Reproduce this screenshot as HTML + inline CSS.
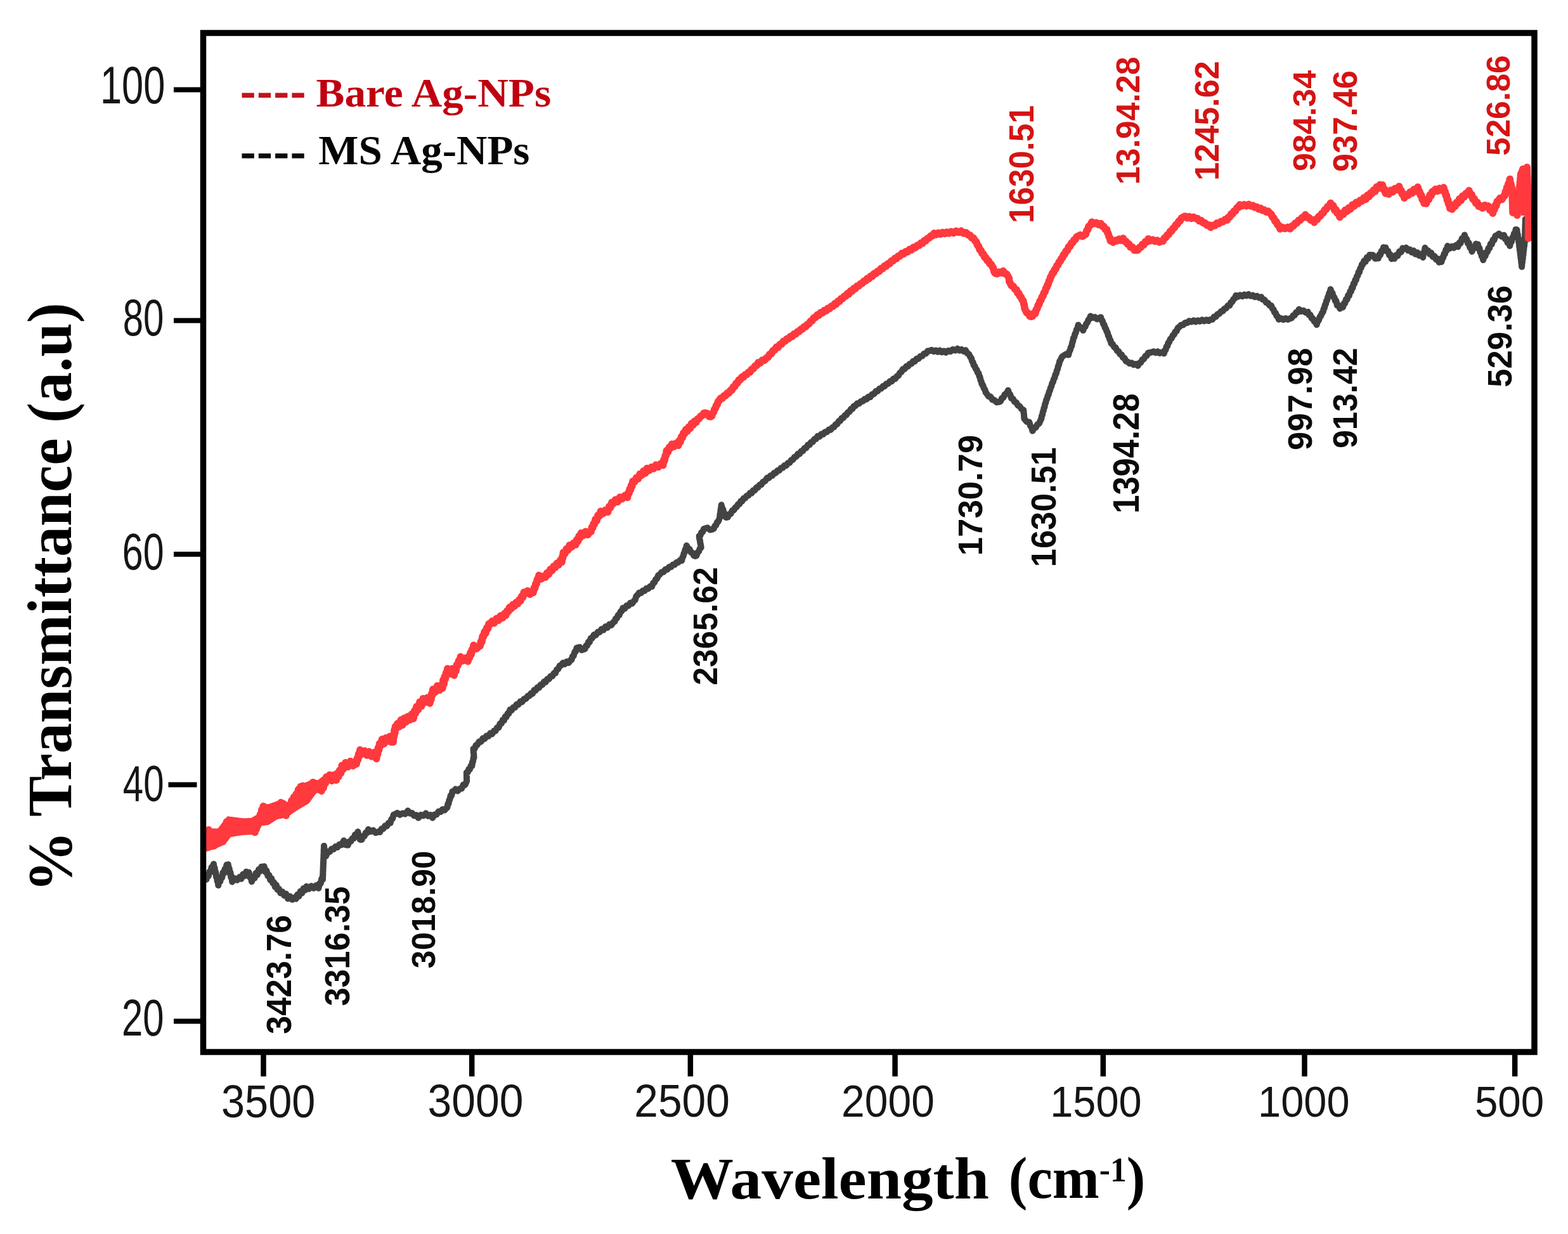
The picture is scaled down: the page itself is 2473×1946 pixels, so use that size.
<!DOCTYPE html>
<html lang="en"><head><meta charset="utf-8"><title>FTIR spectra of Bare and MS Ag-NPs</title>
<style>html,body{margin:0;padding:0;background:#fff;width:2473px;height:1946px;overflow:hidden}svg{display:block}</style>
</head><body>
<svg width='2473' height='1946' viewBox='0 0 2473 1946'>
<rect x='0' y='0' width='2473' height='1946' fill='#fff'/>
<defs><clipPath id='pc'><rect x='320.5' y='52.0' width='2099.5' height='1607.0'/></clipPath></defs>
<g clip-path='url(#pc)' fill='none' stroke-linejoin='round' stroke-linecap='round'>
<polyline points='319,1390.9713 323.8,1385.5153 325.45,1387.1244 327.1,1379.5847 328.75,1381.6197 330.4,1374.4615 332.05,1374.9428 333.7,1367.5694 335.35,1369.4251 337,1362.5337 337.8111,1370.7497 338.6222,1368.7263 339.4333,1377.0459 340.2444,1375.2291 341.0556,1383.2905 341.8667,1382.18 342.6778,1389.796 343.4889,1387.7226 344.3,1396.1563 345.76,1388.0693 347.22,1390.1964 348.68,1382.8236 350.14,1384.1536 351.6,1375.952 353.06,1377.3767 354.52,1370.5481 355.98,1371.9785 357.44,1363.7918 358.9,1365.6204 359.8125,1363.2761 360.725,1371.8391 361.6375,1369.444 362.55,1377.6332 363.4625,1375.8313 364.375,1383.9252 365.2875,1381.8745 366.2,1390.7365 370.1333,1385.1518 374.0667,1387.8002 378,1383.0571 380.62,1385.8934 383.24,1378.6412 385.86,1381.316 388.48,1374.7036 391.1,1377.0348 392.575,1375.8291 394.05,1383.4237 395.525,1382.1601 397,1390.3387 399.2,1382.2793 401.4,1384.9707 403.6,1376.7459 405.8,1379.7061 408,1371.1622 410.2,1373.9562 412.4,1366.7798 414.6,1368.7119 416.55,1366.1311 418.5,1375.138 420.45,1373.0317 422.4,1381.247 424.35,1379.8816 426.3,1387.7727 428.1857,1385.29 430.0714,1392.4633 431.9571,1391.4072 433.8429,1398.66 435.7286,1395.5852 437.6143,1403.0552 439.5,1401.2692 442.42,1408.2641 445.34,1406.2665 448.26,1412.2268 451.18,1409.5521 454.1,1417.1282 457.5,1413.557 460.9,1418.713 464.3,1415.4893 466.6875,1417.6199 469.075,1410.7032 471.4625,1413.4392 473.85,1405.4261 476.2375,1408.5323 478.625,1401.002 481.0125,1403.8681 483.4,1397.8461 487.2,1401.7797 491,1397.3476 494.8,1400.6765 498.6,1396.2793 502.4,1400.6741 504.05,1393.0391 505.7,1393.3073 507.35,1385.4785 509,1387.0737 509.1333,1378.7891 509.2667,1381.3272 509.4,1373.04 509.5333,1374.2049 509.6667,1366.3146 509.8,1367.9192 509.9333,1359.6792 510.0667,1361.2717 510.2,1353.1128 510.3333,1355.2532 510.4667,1346.7322 510.6,1348.0321 510.7333,1339.9109 510.8667,1341.2375 511,1333.9435 512,1342.97 513,1341.6465 514,1350.3904 517,1343.3345 520,1343.3263 523.0333,1338.7069 526.0667,1339.3396 529.1,1335.0112 532.1333,1336.1687 535.1667,1331.7947 538.2,1332.4981 542.3,1325.5323 544.4,1331.8902 546.5,1332.5244 548.7375,1332.7626 550.975,1327.0122 553.2125,1327.008 555.45,1322.3609 557.6875,1322.3376 559.925,1316.4297 562.1625,1316.7934 564.4,1311.6404 565.45,1317.5951 566.5,1318.0008 567.55,1323.6598 568.6,1324.2567 570.6667,1324.0223 572.7333,1318.4942 574.8,1318.4333 576.8667,1313.1378 578.9333,1313.2822 581,1307.8882 584.8,1311.3761 588.6,1309.3645 592.4,1313.2161 596.2,1311.8297 598.9714,1312.2839 601.7429,1307.1024 604.5143,1307.0704 607.2857,1302.2289 610.0571,1302.7697 612.8286,1297.7847 615.6,1297.7508 617.325,1291.7897 619.05,1291.2652 620.775,1284.8049 622.5,1284.383 626.6333,1282.0062 630.7667,1284.8294 634.9,1282.4833 639.05,1283.6568 643.2,1278.5446 646.52,1282.7323 649.84,1282.1321 653.16,1286.299 656.48,1285.3954 659.8,1289.8435 663.7667,1285.0642 667.7333,1286.4054 671.7,1282.5843 675.2,1286.8772 678.7,1285.1567 682.2,1289.7431 685.35,1284.4553 688.5,1284.445 691.65,1279.7485 694.8,1280.233 697.9667,1276.3237 701.1333,1277.7372 704.3,1274.0723 705.35,1273.5633 706.4,1267.745 707.45,1267.6357 708.5,1261.617 709.55,1260.5604 710.6,1254.646 712.0333,1254.9694 713.4667,1248.3439 714.9,1248.3418 718.4,1244.5404 721.9,1247.3412 725.4,1243.7301 728.075,1243.5939 730.75,1237.4323 733.425,1237.727 736.1,1231.8896 736.05,1231.0991 736,1225.1837 735.95,1224.1992 735.9,1218.5549 737.6,1218.3268 739.3,1212.8975 741,1213.0263 742.7,1207.6135 744.4,1207.6219 745.175,1201.1731 745.95,1201.2883 746.725,1194.6588 747.5,1194.9187 747.1667,1188.2427 746.8333,1187.2006 746.5,1181.1063 748.6,1180.6625 750.7,1175.1338 752.8,1174.7269 755.7,1169.4098 758.6,1169.7751 761.5,1164.3244 764.4,1165.1859 767.34,1160.5335 770.28,1161.0945 773.22,1156.3121 776.16,1157.4765 779.1,1152.5763 781.5667,1152.675 784.0333,1147.4502 786.5,1147.2231 788.6,1141.2484 790.7,1141.1288 792.8,1135.4687 794.9,1135.9366 796.8,1129.9371 798.7,1130.617 800.6,1125.3439 802.5,1125.2192 804.4,1119.4113 807.02,1119.8904 809.64,1115.4102 812.26,1115.5876 814.88,1110.7229 817.5,1111.2326 820.5,1106.267 823.5,1106.999 826.5,1102.1285 829.5,1101.8944 832.5,1097.5072 835,1097.5076 837.5,1093.1879 840,1093.8295 842.5,1088.1846 845,1088.7431 847.5,1084.1033 850.12,1084.5059 852.74,1079.7752 855.36,1080.0545 857.98,1075.026 860.6,1075.7652 863.22,1070.7577 865.84,1070.9248 868.46,1066.2637 871.08,1066.3502 873.7,1061.56 875.94,1061.57 878.18,1055.702 880.42,1055.0547 882.66,1049.8654 884.9,1049.2924 887.9,1045.4004 890.9,1047.3839 893.9,1043.342 896.9,1045.1589 899.9,1040.9054 901.5143,1040.5253 903.1286,1034.6798 904.7429,1034.149 906.3571,1027.9835 907.9714,1027.6592 909.5857,1021.562 911.2,1021.2633 914.3333,1020.5781 917.4667,1025.0574 920.6,1023.9469 922.4714,1023.6051 924.3429,1018.2801 926.2143,1018.0064 928.0857,1012.026 929.9571,1012.5343 931.8286,1006.5497 933.7,1006.6173 936.7,1001.0294 939.7,1001.6224 942.7,996.814 945.7,997.0297 948.7,992.0513 951.8167,993.3431 954.9333,988.2246 958.05,989.6819 961.1667,984.6359 964.2833,985.8677 967.4,980.9533 969.275,980.661 971.15,975.3089 973.025,974.9565 974.9,970.0438 976.775,969.9547 978.65,964.4991 980.525,963.7769 982.4,958.8296 985.3333,959.7365 988.2667,955.0316 991.2,955.309 994.1333,950.7617 997.0667,951.6549 1000,947.4913 1001.7333,946.0757 1003.4667,940.0292 1005.2,938.7722 1008.0625,934.7337 1010.925,935.2573 1013.7875,931.6263 1016.65,931.8139 1019.5125,927.9234 1022.375,928.3584 1025.2375,924.7351 1028.1,924.9531 1030.1167,919.4883 1032.1333,918.4508 1034.15,913.7453 1036.1667,912.6449 1038.1833,907.3506 1040.2,906.3566 1043.26,902.5598 1046.32,902.1212 1049.38,898.0647 1052.44,898.1758 1055.5,893.9547 1058.3286,894.0871 1061.1571,890.4673 1063.9857,890.5913 1066.8143,886.9689 1069.6429,886.9494 1072.4714,883.4352 1075.3,883.9842 1076.3857,878.7006 1077.4714,877.7665 1078.5571,872.7625 1079.6429,871.6477 1080.7286,866.3284 1081.8143,865.5521 1082.9,860.3825 1085.1833,865.1813 1087.4667,865.8755 1089.75,870.99 1092.0333,871.731 1094.3167,876.0877 1096.6,876.9473 1098.42,876.3112 1100.24,871.0024 1102.06,869.9542 1103.88,864.8044 1105.7,863.7239 1105.1,858.6886 1104.5,857.0515 1103.9,851.8224 1103.3,850.4392 1102.7,845.3491 1104.52,844.5793 1106.34,839.4472 1108.16,838.8681 1109.98,834.1124 1111.8,833.4567 1115.8667,832.2856 1119.9333,835.557 1124,834.6287 1125.7667,833.559 1127.5333,829.2048 1129.3,828.1455 1131.0667,823.4278 1132.8333,822.3991 1134.6,817.8741 1135.1167,816.1367 1135.6333,810.4988 1136.15,808.899 1136.6667,803.2385 1137.1833,801.9622 1137.7,796.3346 1138.9667,801.6888 1140.2333,802.7968 1141.5,808.4956 1142.7667,809.5591 1144.0333,814.8966 1145.3,816.0634 1147.74,815.6761 1150.18,810.7708 1152.62,810.1241 1155.06,804.9632 1157.5,804.4884 1159.6714,800.265 1161.8429,799.5809 1164.0143,795.208 1166.1857,795.0672 1168.3571,790.2956 1170.5286,790.4002 1172.7,785.9434 1175.2333,785.5926 1177.7667,781.867 1180.3,781.5245 1182.8333,777.5394 1185.3667,777.8506 1187.9,773.3586 1190.45,773.1808 1193,768.8123 1195.55,768.6483 1198.1,764.504 1200.65,764.3248 1203.2,760.1347 1206.6,758.6192 1210,753.5972 1212.725,753.7107 1215.45,749.9264 1218.175,749.9295 1220.9,745.7898 1223.625,745.644 1226.35,742.0391 1229.075,741.9452 1231.8,738.0007 1234.525,737.8629 1237.25,733.9927 1239.975,734.3489 1242.7,730.1563 1245.3111,729.789 1247.9222,725.6264 1250.5333,724.9424 1253.1444,720.6179 1255.7556,720.1586 1258.3667,715.7993 1260.9778,715.9355 1263.5889,711.5728 1266.2,711.2657 1268.8,706.7327 1271.4,706.5002 1274,701.842 1276.6,701.5546 1279.2,697.2229 1281.8,697.0976 1284.4,692.4801 1287,692.2037 1289.6,687.8438 1292.525,688.5274 1295.45,684.3914 1298.375,684.7787 1301.3,681.2187 1304.225,681.2539 1307.15,677.579 1310.075,677.8851 1313,673.8881 1315.44,673.6263 1317.88,669.3385 1320.32,668.8327 1322.76,664.2359 1325.2,663.7198 1327.64,659.2444 1330.08,659.1584 1332.52,654.853 1334.96,654.4801 1337.4,650.0023 1339.72,649.3689 1342.04,644.9835 1344.36,644.8445 1346.68,640.4004 1349,640.1938 1351.9375,636.3672 1354.875,636.4978 1357.8125,633.0318 1360.75,632.8551 1363.6875,629.2162 1366.625,629.7564 1369.5625,625.8173 1372.5,626.2477 1375.425,621.8249 1378.35,621.2705 1381.275,617.1107 1384.2,616.9254 1386.9636,613.0422 1389.7273,612.8739 1392.4909,609.0858 1395.2545,609.1921 1398.0182,605.1869 1400.7818,605.1006 1403.5455,601.3218 1406.3091,601.3863 1409.0727,597.2699 1411.8364,597.4396 1414.6,593.3896 1416.95,592.4556 1419.3,587.8768 1421.65,586.5983 1424,582.1191 1426.6714,582.0707 1429.3429,577.7595 1432.0143,577.7231 1434.6857,574.0743 1437.3571,573.8587 1440.0286,569.7502 1442.7,570.0922 1445.6375,565.697 1448.575,565.8613 1451.5125,561.9493 1454.45,561.6481 1457.3875,557.8217 1460.325,557.6236 1463.2625,553.5025 1466.2,553.3332 1469.4125,551.9262 1472.625,554.2473 1475.8375,552.6299 1479.05,554.8348 1482.2625,552.7011 1485.475,555.4954 1488.6875,553.5734 1491.9,555.8383 1495.52,552.9439 1499.14,554.2857 1502.76,551.1135 1506.38,552.7167 1510,549.9098 1513.225,552.6681 1516.45,551.1018 1519.675,553.8168 1522.9,552.2598 1525.4667,557.1164 1528.0333,558.2343 1530.6,563.5022 1531.9,564.6223 1533.2,569.8713 1534.5,571.0906 1535.8,576.1282 1537.34,577.1152 1538.88,581.7167 1540.42,582.8122 1541.96,587.7529 1543.5,588.5251 1544.52,593.6261 1545.54,594.384 1546.56,599.9768 1547.58,601.0257 1548.6,606.0785 1550.16,607.1804 1551.72,612.3646 1553.28,614.0545 1554.84,619.1915 1556.4,620.9395 1559.3,625.3052 1562.2,625.5911 1565.1,630.329 1568,630.7758 1571.85,634.4214 1575.7,633.8064 1577.95,632.9171 1580.2,627.7333 1582.45,627.1573 1584.7,621.8662 1587.3,620.8977 1589.9,615.584 1591.6,621.1202 1593.3,622.1066 1595,628.019 1597.575,628.7293 1600.15,633.7578 1602.725,634.5013 1605.3,639.1788 1608.3,640.66 1611.3,645.1606 1614.3,646.5678 1614.625,651.7591 1614.95,653.4942 1615.275,659.1741 1615.6,660.5706 1619.45,665.1619 1623.3,665.7052 1625.0333,671.5599 1626.7667,673.5467 1628.5,679.5579 1631.0667,674.8501 1633.6333,674.0206 1636.2,669.3588 1638.8,667.886 1641.4,661.9703 1642.2556,660.6876 1643.1111,655.5865 1643.9667,654.5306 1644.8222,649.4763 1645.6778,647.8944 1646.5333,643.1961 1647.3889,642.062 1648.2444,636.9455 1649.1,635.5841 1650.225,630.5457 1651.35,628.9874 1652.475,624.1101 1653.6,622.6512 1654.725,617.6616 1655.85,615.9811 1656.975,611.2456 1658.1,609.6134 1659.3833,604.3649 1660.6667,602.6833 1661.95,597.7719 1663.2333,596.0438 1664.5167,590.6798 1665.8,589.3265 1666.8833,584.0218 1667.9667,582.2843 1669.05,576.953 1670.1333,575.1973 1671.2167,569.7535 1672.3,568.4431 1674.85,562.9799 1677.4,560.8926 1681.3,558.4386 1685.2,559.6791 1686.475,554.1324 1687.75,552.2875 1689.025,547.2046 1690.3,545.5407 1691.1667,540.0907 1692.0333,538.7092 1692.9,533.1127 1694.1833,531.9274 1695.4667,526.3425 1696.75,524.6612 1698.0333,519.4962 1699.3167,518.1249 1700.6,512.417 1703.1667,516.55 1705.7333,516.9968 1708.3,521.0142 1709.9571,515.6751 1711.6143,515.0758 1713.2714,510.3543 1714.9286,508.8613 1716.5857,504.4178 1718.2429,503.0575 1719.9,498.5636 1723.2667,500.9132 1726.6333,499.9356 1730,503.1417 1736.1,500.1676 1737.4429,505.2847 1738.7857,506.006 1740.1286,511.1851 1741.4714,511.7483 1742.8143,517.265 1744.1571,518.265 1745.5,522.8933 1746.6667,524.0633 1747.8333,529.5354 1749,530.6336 1750.1667,535.42 1751.3333,536.4545 1752.5,541.5821 1754.84,542.6569 1757.18,547.3105 1759.52,548.0872 1761.86,553.2582 1764.2,553.9828 1766.5333,558.6811 1768.8667,559.1223 1771.2,564.2039 1773.5333,564.6946 1775.8667,569.7219 1778.2,570.2727 1781.48,573.0976 1784.76,572.2308 1788.04,575.191 1791.32,573.9638 1794.6,576.7726 1796.9429,572.4143 1799.2857,571.6937 1801.6286,566.8164 1803.9714,566.345 1806.3143,561.6016 1808.6571,560.8714 1811,556.395 1815.9,555.7308 1819.2167,554.2049 1822.5333,556.2548 1825.85,554.4413 1829.1667,557.0446 1832.4833,555.4949 1835.8,557.4537 1837.1333,552.4081 1838.4667,551.7241 1839.8,546.4211 1841.1333,545.8919 1842.4667,540.7051 1843.8,539.9397 1845.7875,534.5688 1847.775,533.6352 1849.7625,528.806 1851.75,527.5072 1853.7375,522.8139 1855.725,522.0491 1857.7125,517.0111 1859.7,515.8478 1862.88,512.4406 1866.06,512.4023 1869.24,508.9653 1872.42,509.3358 1875.6,506.1564 1878.99,507.5043 1882.38,505.4079 1885.77,507.3576 1889.16,505.3782 1892.55,506.7495 1895.94,504.4192 1899.33,506.3437 1902.72,504.256 1906.11,506.0605 1909.5,503.728 1912.2091,503.7958 1914.9182,499.3782 1917.6273,499.4099 1920.3364,495.384 1923.0455,494.8553 1925.7545,491.1023 1928.4636,490.8888 1931.1727,486.7374 1933.8818,486.0745 1936.5909,481.8924 1939.3,481.8316 1941.3,476.9824 1943.3,476.2052 1945.3,471.6728 1947.3,470.7253 1949.3,465.8998 1952.6167,467.8417 1955.9333,465.3429 1959.25,467.2604 1962.5667,464.5417 1965.8833,466.3508 1969.2,464.0322 1972.5,466.7423 1975.8,465.6534 1979.1,468.3037 1982.4,466.7039 1985.7,469.625 1989,468.2645 1991.6667,472.4471 1994.3333,472.7468 1997,477.1909 1999.6667,477.6065 2002.3333,481.6008 2005,482.0015 2006.7,486.5997 2008.4,487.6474 2010.1,492.6737 2011.8,493.4091 2013.5,498.3086 2015.2,498.9877 2016.9,503.7403 2020.48,501.9799 2024.06,504.1975 2027.64,501.9889 2031.22,503.867 2034.8,502.1358 2037.1333,501.4258 2039.4667,497.455 2041.8,497.2096 2044.1333,492.4934 2046.4667,492.5434 2048.8,487.7079 2052.275,491.0481 2055.75,489.6902 2059.225,492.9534 2062.7,491.94 2064.6857,496.7268 2066.6714,496.771 2068.6571,501.8419 2070.6429,502.1303 2072.6286,506.8532 2074.6143,507.2898 2076.6,512.0984 2078.2667,506.2466 2079.9333,505.0858 2081.6,499.6385 2083.2667,498.423 2084.9333,493.5289 2086.6,492.1376 2087.6818,487.031 2088.7636,485.8552 2089.8455,480.6656 2090.9273,479.4115 2092.0091,474.44 2093.0909,473.3855 2094.1727,468.4593 2095.2545,467.2622 2096.3364,462.1145 2097.4182,461.3337 2098.5,456.2169 2099.9875,461.113 2101.475,462.0687 2102.9625,468.4295 2104.45,468.7632 2105.9375,474.6492 2107.425,474.5599 2108.9125,481.6659 2110.4,480.8234 2113.4,486.6299 2116.4,483.8226 2118.0375,484.4039 2119.675,478.3803 2121.3125,478.1938 2122.95,471.9315 2124.5875,472.2557 2126.225,465.7033 2127.8625,465.9411 2129.5,459.2458 2130.8133,459.7323 2132.1267,453.5115 2133.44,454.2079 2134.7533,447.0509 2136.0667,447.5044 2137.38,441.4898 2138.6933,441.8886 2140.0067,435.6 2141.32,435.1002 2142.6333,428.9644 2143.9467,429.3805 2145.26,423.2059 2146.5733,422.7798 2147.8867,417.0481 2149.2,417.3723 2151.3833,411.2789 2153.5667,412.6795 2155.75,406.0623 2157.9333,407.7794 2160.1167,401.9052 2162.3,402.0932 2165.5667,402.2103 2168.8333,407.8047 2172.1,407.3551 2173.7429,407.3465 2175.3857,401.5209 2177.0286,401.76 2178.6714,396.1244 2180.3143,396.2833 2181.9571,390.0102 2183.6,390.824 2185.4714,390.5465 2187.3429,396.0821 2189.2143,396.0076 2191.0857,402.2884 2192.9571,401.393 2194.8286,408.1991 2196.7,406.8895 2199.2857,407.7692 2201.8714,402.3843 2204.4571,403.1036 2207.0429,396.5655 2209.6286,397.6852 2212.2143,391.353 2214.8,392.5563 2217.75,390.6232 2220.7,394.7971 2223.65,393.5031 2226.6,397.8867 2229.55,395.252 2232.5,400.7671 2235.45,398.2972 2238.4,403.1488 2241.35,400.4607 2244.3,405.9159 2245.3667,398.2934 2246.4333,397.9203 2247.5,390.7768 2249.96,396.0091 2252.42,395.3689 2254.88,400.777 2257.34,398.8278 2259.8,404.9016 2262.26,403.6659 2264.72,408.9684 2267.18,407.8797 2269.64,413.6749 2272.1,412.142 2273.4625,412.9847 2274.825,406.4862 2276.1875,406.3968 2277.55,400.1732 2278.9125,400.5428 2280.275,393.8974 2281.6375,395.0043 2283,387.868 2286.5,391.8163 2290,388.7597 2293.1333,390.9454 2296.2667,386.5791 2299.4,389.1927 2301.5,382.9729 2303.6,383.3323 2305.7,376.2675 2307.8,376.6514 2309.9,370.428 2311.5714,377.0633 2313.2429,376.9518 2314.9143,383.9539 2316.5857,382.8821 2318.2571,390.0757 2319.9286,390.0111 2321.6,396.7215 2323.65,390.5607 2325.7,390.8895 2327.75,384.6201 2329.8,385.523 2330.975,385.5968 2332.15,392.3004 2333.325,391.0806 2334.5,397.8242 2335.675,397.7764 2336.85,403.9391 2338.025,404.1848 2339.2,410.0577 2340.8714,403.2482 2342.5429,403.5456 2344.2143,397.6483 2345.8857,397.3223 2347.5571,391.4541 2349.2286,391.3024 2350.9,384.4544 2352.78,385.1599 2354.66,378.0052 2356.54,378.5796 2358.42,372.0647 2360.3,371.4894 2364.2,368.6051 2368.1,372.812 2372,370.8251 2373.86,376.808 2375.72,376.4648 2377.58,382.5107 2379.44,382.3233 2381.3,387.8436 2382.625,381.017 2383.95,381.3028 2385.275,374.6186 2386.6,374.8861 2387.925,368.0821 2389.25,368.9279 2390.575,361.9745 2391.9,361.9508 2392.4833,362.6526 2393.0667,369.1952 2393.65,369.1656 2394.2333,375.2644 2394.8167,375.1589 2395.4,382.5761 2395.7917,382.4667 2396.1833,389.1112 2396.575,388.4356 2396.9667,394.9886 2397.3583,395.309 2397.75,401.446 2398.1417,400.8874 2398.5333,407.788 2398.925,408.185 2399.3167,414.1038 2399.7083,414.6394 2400.1,420.7589 2400.4917,413.8592 2400.8833,414.0362 2401.275,408.1249 2401.6667,408.4399 2402.0583,400.8781 2402.45,402.0301 2402.8417,395.1715 2403.2333,394.9608 2403.625,388.0237 2404.0167,388.6402 2404.4083,381.8186 2404.8,382.0201 2404.91,375.7589 2405.02,375.0319 2405.13,368.0193 2405.24,368.4441 2405.35,361.1768 2405.46,361.1094 2405.57,354.1873 2405.68,354.0679 2405.79,347.1709 2405.9,345.4' stroke='#434343' stroke-width='10'/>
<polyline points='319,1337.8265 321,1328.6016 322.3333,1333.4694 323.6667,1322.4624 325,1326.8513 326.3333,1315.4033 327.6667,1319.3352 329,1308.7191 330.6,1319.5178 332.2,1315.7017 333.8,1326.3979 335.4,1323.3505 337,1334.0757 339.3333,1322.2619 341.6667,1327.9981 344,1318.4225 345.6667,1323.8001 347.3333,1311.0739 349,1318.12 350.6667,1306.8821 352.3333,1313.5523 354,1302.193 355.6667,1307.7053 357.3333,1296.036 359,1300.382 360.75,1296.9335 362.5,1307.2885 364.25,1301.7051 366,1313.4723 368.6667,1303.5355 371.3333,1310.6063 374,1300.0533 376.6667,1306.3807 379.3333,1296.8196 382,1301.1725 384,1297.1319 386,1308.0423 388,1301.9167 390.3333,1306.8025 392.6667,1295.5257 395,1301.1466 396.75,1296.2331 398.5,1307.9911 400.25,1301.245 402,1312.6291 403.2,1301.526 404.4,1307.2703 405.6,1294.7272 406.8,1301.7213 408,1290.126 409.2,1296.2873 410.4,1284.4919 411.6,1288.8417 412.8,1276.8556 414,1282.1284 415.2,1271.4648 417.275,1281.947 419.35,1277.2712 421.425,1289.9923 423.5,1283.7568 425.9556,1291.2363 428.4111,1280.0874 430.8667,1286.4792 433.3222,1275.0817 435.7778,1281.8825 438.2333,1271.1126 440.6889,1278.215 443.1444,1265.5925 445.6,1272.9984 446.975,1267.2562 448.35,1278.2252 449.725,1273.4138 451.1,1285.9266 452.8786,1272.9528 454.6571,1280.6307 456.4357,1268.9778 458.2143,1273.8227 459.9929,1262.2987 461.7714,1267.1951 463.55,1257.0823 465.3286,1261.8266 467.1071,1252.2066 468.8857,1255.8281 470.6643,1244.8665 472.4429,1250.2737 474.2214,1240.4264 476,1245.1926 477.38,1239.3382 478.76,1251.0644 480.14,1247.0233 481.52,1258.8649 482.9,1252.5886 484.6714,1259.6956 486.4429,1246.3224 488.2143,1252.0427 489.9857,1241.1186 491.7571,1245.9272 493.5286,1233.6438 495.3,1241.0954 497.65,1235.2515 500,1245.0611 503.5,1239.1509 507,1247.5025 508.5667,1236.7581 510.1333,1242.5497 511.7,1231.4747 513.2667,1235.2685 514.8333,1225.2548 516.4,1230.3389 519.9,1221.9733 523.4,1231.2945 526.9,1222.0964 530.4,1230.3099 532.1667,1219.3271 533.9333,1224.8048 535.7,1214.7285 537.4667,1219.4406 539.2333,1207.2284 541,1213.5177 544.9,1202.6881 548.8,1209.2995 552.7,1200.4523 556.8,1207.683 560.9,1201.1228 562.0667,1204.8734 563.2333,1195.7651 564.4,1198.5697 565.5667,1188.9182 566.7333,1192.2318 567.9,1182.5317 571.425,1189.0255 574.95,1184.0597 578.475,1191.0033 582,1185.3319 585.9,1192.874 589.8,1186.5161 593.7,1196.5317 594.6667,1185.9991 595.6333,1189.0842 596.6,1178.9184 597.5667,1182.7027 598.5333,1172.7903 599.5,1177.1601 602.56,1165.8755 605.62,1173.0185 608.68,1163.7414 611.74,1168.8832 614.8,1161.3201 617.1,1170.1709 619.4,1165.6543 620.0714,1170.2721 620.7429,1159.201 621.4143,1161.7734 622.0857,1150.7389 622.7571,1156.2243 623.4286,1145.863 624.1,1149.5721 626.8333,1141.0225 629.5667,1146.0049 632.3,1135.3484 635.0333,1143.2258 637.7667,1132.4502 640.5,1138.3375 643.425,1129.9749 646.35,1135.2258 649.275,1126.1631 652.2,1133.1483 653.7667,1120.7971 655.3333,1124.8917 656.9,1114.2482 659.48,1119.2559 662.06,1106.8939 664.64,1113.7084 667.22,1101.6563 669.8,1107.9912 673.9,1100.1853 678,1109.0602 678.94,1098.8253 679.88,1103.23 680.82,1093.8048 681.76,1096.3729 682.7,1087.1213 686.2,1091.4998 689.7,1081.5252 693.2,1088.4022 696.7,1079.7437 697.8375,1085.1333 698.975,1072.0769 700.1125,1078.7238 701.25,1067.0296 702.3875,1070.621 703.525,1060.8896 704.6625,1064.1176 705.8,1054.4902 709.2333,1062.7208 712.6667,1054.6576 716.1,1064.941 717.5714,1053.3426 719.0429,1058.2621 720.5143,1048.1848 721.9857,1049.5502 723.4571,1042.1154 724.9286,1044.4068 726.4,1035.6939 730.2667,1041.9294 734.1333,1037.838 738,1042.891 739.2857,1035.3418 740.5714,1037.2132 741.8571,1029.4403 743.1429,1032.1903 744.4286,1024.1013 745.7143,1025.5347 747,1017.4718 751.5,1023.0285 756,1018.5205 757.28,1018.6215 758.56,1011.3459 759.84,1012.4716 761.12,1003.2612 762.4,1004.2473 764.1167,996.4009 765.8333,998.9067 767.55,990.1627 769.2667,991.5897 770.9833,983.8426 772.7,984.8268 776.1333,979.6308 779.5667,982.5607 783,975.3729 786.225,978.3359 789.45,971.1396 792.675,974.3606 795.9,967.3731 797.825,970.3903 799.75,963.1151 801.675,964.465 803.6,957.8545 806.1833,959.9414 808.7667,953.5916 811.35,956.1001 813.9333,949.951 816.5167,952.0603 819.1,945.4215 820.9,947.5876 822.7,940.3515 824.5,942.2175 826.3,934.0692 828.1,936.3178 831.9667,931.6444 835.8333,937.2939 839.7,933.032 840.9875,934.5317 842.275,927.2747 843.5625,927.9692 844.85,920.6028 846.1375,920.9303 847.425,913.3211 848.7125,914.7077 850,907.3108 853.85,912.879 857.7,908.4988 860.275,910.4151 862.85,903.4002 865.425,905.5748 868,897.8912 870.6,899.8182 873.2,893.0436 875.8,894.8605 878.4,888.2762 880.9667,890.8592 883.5333,883.6979 886.1,886.3083 886.8667,877.7573 887.6333,879.8485 888.4,871.2516 890.875,873.1769 893.35,865.5675 895.825,867.4414 898.3,859.7148 901.5667,862.694 904.8333,856.1967 908.1,858.9953 909.78,850.959 911.46,853.6539 913.14,845.4067 914.82,848.3419 916.5,840.5996 920.025,844.3053 923.55,838.2766 927.075,843.284 930.6,837.9649 932,838.5809 933.4,831.4865 934.8,832.4479 936.2,825.6918 937.6,826.382 939,819.0462 941.1,821.1333 943.2,812.389 945.3,813.9335 947.4,806.2832 951.1667,810.0413 954.9333,804.257 958.7,807.5418 960.8,798.5938 962.9,800.3464 965,792.3141 967.1,794.2876 970.625,788.0172 974.15,791.5363 977.675,784.0012 981.2,786.868 985.4,781.3674 989.6,784.5461 990.8,777.0922 992,778.1143 993.2,771.12 994.4,772.8249 995.6,765.5237 996.8,766.598 998,758.9554 1000.8,760.0494 1003.6,753.4525 1006.4,755.2173 1009.2,747.5584 1012.025,749.5368 1014.85,742.7201 1017.675,746.3143 1020.5,738.5382 1024,741.8915 1027.5,736.6915 1031,739.0034 1034.5,733.1984 1038.2667,736.4818 1042.0333,731.2084 1045.8,733.82 1046.92,725.0796 1048.04,727.0756 1049.16,718.6809 1050.28,718.8916 1051.4,710.5091 1053.5,712.9953 1055.6,705.1544 1057.7,706.6958 1059.8,700.3723 1063.1,704.2124 1066.4,698.9425 1069.7,702.4478 1071.3333,694.7499 1072.9667,697.1398 1074.6,688.8678 1076.2333,690.3297 1077.8667,682.7274 1079.5,684.2399 1081.7333,677.3353 1083.9667,680.0626 1086.2,673.3421 1088.4333,675.4966 1090.6667,667.849 1092.9,670.4116 1095.3125,664.313 1097.725,666.2363 1100.1375,660.6923 1102.55,660.189 1104.9625,656.2158 1107.375,655.6267 1109.7875,651.6654 1112.2,651.2666 1115.2,651.9045 1118.2,656.6818 1121.2,657.0473 1122.6333,656.0851 1124.0667,651.1179 1125.5,649.9886 1126.9333,645.2186 1128.3667,643.9278 1129.8,639.2203 1131.2333,638.2318 1132.6667,632.8828 1134.1,631.8894 1136.6714,627.9023 1139.2429,628.3017 1141.8143,624.0773 1144.3857,624.1716 1146.9571,619.8149 1149.5286,619.9104 1152.1,615.5042 1154.3143,615.0605 1156.5286,610.1965 1158.7429,609.7318 1160.9571,604.3825 1163.1714,604.0002 1165.3857,598.9628 1167.6,598.7152 1170.1667,594.396 1172.7333,594.6583 1175.3,590.711 1177.8667,590.5709 1180.4333,586.9815 1183,586.7146 1185.58,582.0832 1188.16,581.671 1190.74,577.2872 1193.32,576.4032 1195.9,571.7 1199.125,572.3934 1202.35,567.9576 1205.575,568.1726 1208.8,564.3774 1211.38,563.4146 1213.96,558.5605 1216.54,557.6492 1219.12,552.8891 1221.7,552.0358 1224.4833,547.3741 1227.2667,547.7828 1230.05,542.9353 1232.8333,542.624 1235.6167,537.9716 1238.4,537.965 1241.1571,534.1625 1243.9143,534.085 1246.6714,530.461 1249.4286,530.6976 1252.1857,526.699 1254.9429,526.8395 1257.7,523.012 1260.2833,522.9398 1262.8667,519.2969 1265.45,519.1265 1268.0333,515.345 1270.6167,515.2296 1273.2,511.7158 1275.78,510.8817 1278.36,506.4233 1280.94,505.8989 1283.52,501.0766 1286.1,500.8428 1288.88,496.6157 1291.66,497.2211 1294.44,492.8762 1297.22,493.4154 1300,489.6245 1302.8,490.3104 1305.6,486.3758 1308.4,486.7862 1311.2,482.7048 1314,482.9976 1316.5,478.8966 1319,479.5176 1321.5,475.0134 1324,475.4038 1326.5,470.8826 1329,471.0149 1331.5,467.05 1334,467.2306 1336.5,462.8397 1339,463.4055 1341.5,458.8308 1344,459.2522 1346.5,454.7747 1349,455.3002 1351.7077,450.9163 1354.4154,451.061 1357.1231,447.3796 1359.8308,447.0462 1362.5385,443.2181 1365.2462,443.0746 1367.9538,438.965 1370.6615,439.4065 1373.3692,435.1422 1376.0769,435.4953 1378.7846,431.155 1381.4923,431.4552 1384.2,427.6279 1386.9,427.6879 1389.6,423.1894 1392.3,423.533 1395,419.3544 1397.7,419.6623 1400.4,415.6807 1403.1,415.7419 1405.8,411.5942 1408.5,411.3554 1411.2,407.6165 1413.9,407.7987 1416.6,403.6853 1419.3,403.8361 1422.35,399.5753 1425.4,400.4012 1428.45,396.669 1431.5,397.1118 1434.55,393.1993 1437.6,394.0132 1440.65,389.9613 1443.7,390.6549 1446.75,387.0212 1449.8,387.0629 1452.4,383.3589 1455,383.616 1457.6,379.5049 1460.2,379.6832 1462.8,375.8666 1465.4,375.5415 1468,371.8829 1470.6,372.1045 1473.2,367.7939 1476.55,369.8582 1479.9,367.3718 1483.25,369.0829 1486.6,366.5873 1489.95,368.3763 1493.3,366.1303 1496.65,367.9705 1500,365.4045 1503.95,367.4362 1507.9,364.4402 1511.85,366.331 1515.8,364.2408 1519.6667,367.9865 1523.5333,366.7201 1527.4,370.5532 1530.025,370.9357 1532.65,375.1522 1535.275,375.2593 1537.9,379.9027 1539.75,381.2887 1541.6,386.7093 1543.45,388.1748 1545.3,394.0702 1547.2,394.7865 1549.1,399.8667 1551,400.4295 1552.9,405.7887 1554.8,406.1869 1556.9,410.8558 1559,411.1444 1561.1,416.0963 1563.2,416.7744 1565.3,420.8723 1566.7,422.8869 1568.1,428.8873 1569.5,430.7398 1572.675,431.7586 1575.85,429.1133 1579.025,430.2691 1582.2,427.2007 1585,431.7378 1587.8,432.1904 1590.6,437.1986 1591.3,438.5544 1592,444.2536 1592.7,445.1808 1595.35,450.638 1598,451.2474 1600.65,456.1045 1603.3,456.9825 1605.05,462.2159 1606.8,462.4922 1608.55,467.4472 1610.3,468.227 1612.05,473.0267 1613.8,474.0996 1614.6,479.4091 1615.4,480.9542 1616.2,486.8749 1617,488.2406 1619.35,493.1771 1621.7,493.9626 1624.05,498.6419 1626.4,499.3104 1628.5333,498.7385 1630.6667,493.8943 1632.8,494.1271 1634.26,488.1385 1635.72,487.2075 1637.18,481.3145 1638.64,480.6426 1640.1,474.784 1641.6833,473.79 1643.2667,468.4322 1644.85,467.1314 1646.4333,461.5126 1648.0167,460.4775 1649.6,454.724 1650.8143,453.836 1652.0286,449.0706 1653.2429,448.211 1654.4571,442.9927 1655.6714,441.896 1656.8857,436.8278 1658.1,435.7576 1659.85,430.5811 1661.6,430.2184 1663.35,424.9161 1665.1,424.0499 1666.85,418.9238 1668.6,418.0211 1670.35,413.0815 1672.1,412.1754 1673.85,407.6282 1675.6,406.601 1677.35,401.5592 1679.1,401.1832 1681.22,396.0314 1683.34,395.1209 1685.46,389.2222 1687.58,388.5135 1689.7,383.4421 1691.8,382.6512 1693.9,378.3928 1696,377.6654 1698.1,373.3126 1700.2,372.5206 1703.7,370.6672 1707.2,372.7289 1710.7,370.271 1712.3,369.4173 1713.9,363.7199 1715.5,362.3557 1717.1,356.7998 1719.55,355.5074 1722,350.1169 1725.525,352.4841 1729.05,351.3052 1732.575,354.2046 1736.1,352.5507 1738.45,356.8371 1740.8,356.9333 1743.15,361.7636 1745.5,361.8939 1746.6667,366.8574 1747.8333,368.1068 1749,373.1718 1750.1667,374.2158 1751.3333,379.7543 1752.5,380.1953 1755.6167,382.0366 1758.7333,379.1496 1761.85,379.9403 1764.9667,377.1497 1768.0833,378.9176 1771.2,375.7318 1773.54,380.2799 1775.88,380.7099 1778.22,384.8367 1780.56,384.8061 1782.9,389.7901 1786.0333,389.5577 1789.1667,394.6158 1792.3,394.6735 1794.6375,394.2387 1796.975,390.3327 1799.3125,390.0991 1801.65,385.6003 1803.9875,385.9631 1806.325,381.1753 1808.6625,381.3778 1811,376.7482 1814.4667,379.6414 1817.9333,378.0492 1821.4,380.5449 1824.8667,379.0705 1828.3333,381.8332 1831.8,380.1505 1834.0857,380.1195 1836.3714,375.4243 1838.6571,374.6792 1840.9429,370.3428 1843.2286,369.8851 1845.5143,364.947 1847.8,364.4406 1850.0375,360.0482 1852.275,359.2254 1854.5125,354.2503 1856.75,353.6645 1858.9875,349.0016 1861.225,348.3237 1863.4625,343.6609 1865.7,342.66 1869.0167,340.9731 1872.3333,343.7408 1875.65,341.5239 1878.9667,344.3601 1882.2833,342.2972 1885.6,344.6179 1888.5875,344.5119 1891.575,348.5502 1894.5625,347.6986 1897.55,351.6137 1900.5375,351.6038 1903.525,355.2089 1906.5125,354.6676 1909.5,358.6346 1912.725,355.1804 1915.95,355.8154 1919.175,351.7846 1922.4,352.5629 1925.625,349.371 1928.85,349.658 1932.075,346.1525 1935.3,346.9 1937.5111,342.3719 1939.7222,342.1055 1941.9333,337.1643 1944.1444,337.0547 1946.3556,332.634 1948.5667,332.481 1950.7778,327.7003 1952.9889,327.5199 1955.2,322.8846 1958.78,324.7095 1962.36,322.5509 1965.94,324.7558 1969.52,322.4303 1973.1,324.8823 1976.09,324.102 1979.08,327.0907 1982.07,326.3373 1985.06,329.7491 1988.05,328.3823 1991.04,331.8022 1994.03,331.1121 1997.02,334.2242 2000.01,333.1263 2003,336.5594 2004.9875,337.8848 2006.975,342.4829 2008.9625,343.6447 2010.95,348.9858 2012.9375,349.3108 2014.925,354.8566 2016.9125,355.2141 2018.9,360.9569 2022.875,358.6226 2026.85,360.4869 2030.825,358.2404 2034.8,360.8402 2037.4556,356.5988 2040.1111,356.3664 2042.7667,351.9581 2045.4222,351.7611 2048.0778,347.5655 2050.7333,347.21 2053.3889,343.3504 2056.0444,342.8574 2058.7,338.7086 2061.48,343.072 2064.26,342.8521 2067.04,347.0775 2069.82,346.7993 2072.6,350.6947 2075,346.0124 2077.4,346.1879 2079.8,341.4576 2082.2,340.901 2084.6,336.6317 2086.9167,335.9215 2089.2333,330.784 2091.55,330.2416 2093.8667,325.5672 2096.1833,325.1184 2098.5,320.2109 2100.5857,325.5514 2102.6714,324.1403 2104.7571,331.3804 2106.8429,330.4364 2108.9286,335.9856 2111.0143,335.8403 2113.1,342.4101 2115.9143,336.2216 2118.7286,337.9871 2121.5429,331.2713 2124.3571,333.2993 2127.1714,327.7472 2129.9857,329.7667 2132.8,323.1309 2135.8429,324.9985 2138.8857,319.2759 2141.9286,321.3168 2144.9714,316.0292 2148.0143,317.2221 2151.0571,311.7463 2154.1,314.506 2156.56,307.8818 2159.02,310.2762 2161.48,304.3077 2163.94,305.2181 2166.4,299.5404 2168.86,301.7714 2171.32,294.7419 2173.78,296.8698 2176.24,291.2726 2178.7,292.6587 2180.34,291.8298 2181.98,299.1391 2183.62,298.0992 2185.26,304.9179 2186.9,303.3942 2190.1833,306.2506 2193.4667,300.0556 2196.75,302.7082 2200.0333,297.2562 2203.3167,299.0845 2206.6,293.9179 2208.24,300.915 2209.88,300.1561 2211.52,306.177 2213.16,305.318 2214.8,312.1532 2217.8429,307.1807 2220.8857,308.1702 2223.9286,302.889 2226.9714,304.7558 2230.0143,298.6651 2233.0571,301.6403 2236.1,294.9137 2237.525,302.148 2238.95,302.0804 2240.375,308.1085 2241.8,307.7642 2243.225,314.9485 2244.65,313.9722 2246.075,320.5635 2247.5,320.1561 2249.3857,321.03 2251.2714,313.7809 2253.1571,315.0879 2255.0429,307.5007 2256.9286,308.9082 2258.8143,302.2315 2260.7,303.021 2263.96,298.3345 2267.22,301.3927 2270.48,296.9254 2273.74,300.2653 2277,295.8009 2278.1,302.3134 2279.2,302.269 2280.3,308.7275 2281.4,308.0703 2282.5,315.7256 2283.6,315.2179 2284.7,322.0406 2285.8,320.9885 2286.9,328.6857 2288,328.3647 2290.2833,329.9678 2292.5667,323.2567 2294.85,325.5398 2297.1333,319.2432 2299.4167,320.3258 2301.7,313.8035 2304.2333,316.0873 2306.7667,309.0297 2309.3,310.5204 2311.8333,305.0613 2314.3667,305.9425 2316.9,300.5117 2318.95,307.7946 2321,306.5189 2323.05,314.1964 2325.1,313.2062 2327.45,320.2494 2329.8,318.9197 2332.15,325.3674 2334.5,324.35 2338,328.2722 2341.5,323.5727 2345,326.3457 2347.35,324.8526 2349.7,331.1699 2352.05,330.3852 2354.4,336.334 2355.7667,330.0789 2357.1333,330.2284 2358.5,323.4006 2359.8667,324.4414 2361.2333,317.6128 2362.6,317.4878 2365.7333,312.4235 2368.8667,314.3714 2372,308.7167 2373.1625,308.8012 2374.325,302.2462 2375.4875,302.8947 2376.65,295.4084 2377.8125,295.6212 2378.975,289.4609 2380.1375,289.5447 2381.3,282.5061 2382.175,290.0941 2383.05,290.0225 2383.925,296.5592 2384.8,296.3427 2384.9091,303.536 2385.0182,303.2063 2385.1273,309.821 2385.2364,308.8527 2385.3455,316.2264 2385.4545,315.6877 2385.5636,322.6768 2385.6727,322.2565 2385.7818,329.6473 2385.8909,328.0038 2386,335.4843 2389.5,333.8531 2393,339.394 2393.295,332.3759 2393.59,332.1416 2393.885,325.1507 2394.18,326.1717 2394.475,318.8021 2394.77,319.712 2395.065,312.2918 2395.36,313.3335 2395.655,306.6621 2395.95,306.3917 2396.245,299.7845 2396.54,300.6558 2396.835,292.9415 2397.13,293.5952 2397.425,286.825 2397.72,287.4722 2398.015,280.5175 2398.31,280.7791 2398.605,274.3263 2398.9,274.7613 2401.85,266.8838 2404.8,267.2974 2408.3,263.8732 2408.4095,271.3137 2408.519,269.8039 2408.6286,277.097 2408.7381,277.2159 2408.8476,284.4026 2408.9571,282.7275 2409.0667,290.3514 2409.1762,290.2316 2409.2857,297.3169 2409.3952,296.322 2409.5048,303.7589 2409.6143,302.5271 2409.7238,310.136 2409.8333,309.5114 2409.9429,316.5591 2410.0524,315.9085 2410.1619,322.5967 2410.2714,321.6729 2410.381,329.5412 2410.4905,328.8858 2410.6,335.3204 2410.5923,335.1291 2410.5846,342.1653 2410.5769,341.655 2410.5692,348.2288 2410.5615,348.3163 2410.5538,355.4136 2410.5462,354.0925 2410.5385,361.152 2410.5308,360.977 2410.5231,368.4656 2410.5154,368.0744 2410.5077,375.0641 2410.5,376' stroke='#ff393d' stroke-width='11.5'/>
<polygon points='2399,268 2412,262 2413,340 2399,340' fill='#ff393d' stroke='none'/>
<polygon points='319,1307 323.8,1307.4 344.3,1307.4 358.9,1288.3 382.3,1291.3 395.5,1291.3 408.7,1284 414.6,1267.8 423.3,1269.3 443.8,1262 455.6,1269.3 473.1,1238.6 490.7,1231.2 499.5,1232.7 511.2,1223.9 511.2,1243 498,1250.3 486.3,1266.4 468.7,1276.6 451.2,1288.3 436.5,1291.3 423.3,1300 410.2,1301.5 402.8,1314.7 380.9,1316.2 363.3,1319.1 354.5,1330.8 341.4,1336.7 323.8,1342.5 319,1344' fill='#ff393d' stroke='#ff393d' stroke-width='2' stroke-linejoin='round'/>
</g>
<rect x='320.5' y='52.0' width='2099.5' height='1607.0' fill='none' stroke='#000' stroke-width='9.5'/>
<line x1='274' y1='141.6' x2='320.5' y2='141.6' stroke='#000' stroke-width='8'/>
<line x1='274' y1='505.5' x2='320.5' y2='505.5' stroke='#000' stroke-width='8'/>
<line x1='274' y1='874.0' x2='320.5' y2='874.0' stroke='#000' stroke-width='8'/>
<line x1='265.5' y1='1237.4' x2='310.5' y2='1237.4' stroke='#000' stroke-width='8'/>
<line x1='274' y1='1610.5' x2='320.5' y2='1610.5' stroke='#000' stroke-width='8'/>
<line x1='415.5' y1='1659.0' x2='415.5' y2='1697.5' stroke='#000' stroke-width='8.5'/>
<line x1='744.2' y1='1659.0' x2='744.2' y2='1697.5' stroke='#000' stroke-width='8.5'/>
<line x1='1088.9' y1='1659.0' x2='1088.9' y2='1697.5' stroke='#000' stroke-width='8.5'/>
<line x1='1411.6' y1='1659.0' x2='1411.6' y2='1697.5' stroke='#000' stroke-width='8.5'/>
<line x1='1739.8' y1='1659.0' x2='1739.8' y2='1697.5' stroke='#000' stroke-width='8.5'/>
<line x1='2057.5' y1='1659.0' x2='2057.5' y2='1697.5' stroke='#000' stroke-width='8.5'/>
<line x1='2389.2' y1='1659.0' x2='2389.2' y2='1697.5' stroke='#000' stroke-width='8.5'/>
<rect x='381.5' y='146.5' width='19.3' height='7.6' fill='#c4101c'/>
<rect x='381.5' y='242' width='19.3' height='7.6' fill='#0a0a0a'/>
<rect x='407.8' y='146.5' width='19.3' height='7.6' fill='#c4101c'/>
<rect x='407.8' y='242' width='19.3' height='7.6' fill='#0a0a0a'/>
<rect x='434.1' y='146.5' width='19.3' height='7.6' fill='#c4101c'/>
<rect x='434.1' y='242' width='19.3' height='7.6' fill='#0a0a0a'/>
<rect x='460.4' y='146.5' width='19.3' height='7.6' fill='#c4101c'/>
<rect x='460.4' y='242' width='19.3' height='7.6' fill='#0a0a0a'/>
<text transform='matrix(0.6142,0,0,0.8394,157.8865,162.9606)' font-family="'Liberation Sans', Arial, sans-serif" font-weight='normal' font-size='100' fill='#151515'>100</text>
<text transform='matrix(0.5825,0,0,0.8169,193.6699,529.1831)' font-family="'Liberation Sans', Arial, sans-serif" font-weight='normal' font-size='100' fill='#151515'>80</text>
<text transform='matrix(0.5912,0,0,0.8169,192.8441,898.2831)' font-family="'Liberation Sans', Arial, sans-serif" font-weight='normal' font-size='100' fill='#151515'>60</text>
<text transform='matrix(0.5819,0,0,0.7944,193.8362,1263.2056)' font-family="'Liberation Sans', Arial, sans-serif" font-weight='normal' font-size='100' fill='#151515'>40</text>
<text transform='matrix(0.599,0,0,0.8113,192.0049,1633.1887)' font-family="'Liberation Sans', Arial, sans-serif" font-weight='normal' font-size='100' fill='#151515'>20</text>
<text transform='matrix(0.6664,0,0,0.7183,349.0346,1761.7817)' font-family="'Liberation Sans', Arial, sans-serif" font-weight='normal' font-size='100' fill='#151515'>3500</text>
<text transform='matrix(0.678,0,0,0.7211,674.5879,1761.4789)' font-family="'Liberation Sans', Arial, sans-serif" font-weight='normal' font-size='100' fill='#151515'>3000</text>
<text transform='matrix(0.6779,0,0,0.7211,1000.2103,1761.4789)' font-family="'Liberation Sans', Arial, sans-serif" font-weight='normal' font-size='100' fill='#151515'>2500</text>
<text transform='matrix(0.6601,0,0,0.7113,1327.0995,1761.2887)' font-family="'Liberation Sans', Arial, sans-serif" font-weight='normal' font-size='100' fill='#151515'>2000</text>
<text transform='matrix(0.6495,0,0,0.6831,1656.2038,1760.8169)' font-family="'Liberation Sans', Arial, sans-serif" font-weight='normal' font-size='100' fill='#151515'>1500</text>
<text transform='matrix(0.6495,0,0,0.6831,1984.1038,1760.8169)' font-family="'Liberation Sans', Arial, sans-serif" font-weight='normal' font-size='100' fill='#151515'>1000</text>
<text transform='matrix(0.656,0,0,0.6831,2325.8761,1760.8169)' font-family="'Liberation Sans', Arial, sans-serif" font-weight='normal' font-size='100' fill='#151515'>500</text>
<text transform='matrix(0,-0.9626,0.9889,0,112.2333,1406.6257)' font-family="'Liberation Serif', 'Times New Roman', serif" font-weight='bold' font-size='100' fill='#000'>% Transmittance (a.u)</text>
<text transform='matrix(0.9934,0,0,0.9389,1057.7066,1889.6833)' font-family="'Liberation Serif', 'Times New Roman', serif" font-weight='bold' font-size='100' fill='#000'>Wavelength</text>
<text transform='matrix(0.888,0,0,0.9356,1590.8479,1888.5533)' font-family="'Liberation Serif', 'Times New Roman', serif" font-weight='bold' font-size='100' fill='#000'>(cm<tspan font-size='58%' dy='-0.466em'>-1</tspan><tspan dy='0.27em'>)</tspan></text>
<text transform='matrix(0.6727,0,0,0.6402,498.5546,167.5552)' font-family="'Liberation Serif', 'Times New Roman', serif" font-weight='bold' font-size='100' fill='#c00010'>Bare Ag-NPs</text>
<text transform='matrix(0.6704,0,0,0.6506,502.1592,258.9379)' font-family="'Liberation Serif', 'Times New Roman', serif" font-weight='bold' font-size='100' fill='#050505'>MS Ag-NPs</text>
<text transform='matrix(0,-0.5142,0.5465,0,1630.4535,352.085)' font-family="'Liberation Sans', Arial, sans-serif" font-weight='bold' font-size='100' fill='#d41414'>1630.51</text>
<text transform='matrix(0,-0.5189,0.5197,0,1797.1803,291.3137)' font-family="'Liberation Sans', Arial, sans-serif" font-weight='bold' font-size='100' fill='#d41414'>13.94.28</text>
<text transform='matrix(0,-0.5222,0.5324,0,1922.4676,284.8333)' font-family="'Liberation Sans', Arial, sans-serif" font-weight='bold' font-size='100' fill='#d41414'>1245.62</text>
<text transform='matrix(0,-0.5203,0.507,0,2074.793,269.9811)' font-family="'Liberation Sans', Arial, sans-serif" font-weight='bold' font-size='100' fill='#d41414'>984.34</text>
<text transform='matrix(0,-0.5225,0.5324,0,2140.1676,270.9899)' font-family="'Liberation Sans', Arial, sans-serif" font-weight='bold' font-size='100' fill='#d41414'>937.46</text>
<text transform='matrix(0,-0.5177,0.5183,0,2381.4817,245.5532)' font-family="'Liberation Sans', Arial, sans-serif" font-weight='bold' font-size='100' fill='#d41414'>526.86</text>
<text transform='matrix(0,-0.5258,0.5437,0,2384.4563,610.7773)' font-family="'Liberation Sans', Arial, sans-serif" font-weight='bold' font-size='100' fill='#0a0a0a'>529.36</text>
<text transform='matrix(0,-0.5268,0.5324,0,2069.4676,709.907)' font-family="'Liberation Sans', Arial, sans-serif" font-weight='bold' font-size='100' fill='#0a0a0a'>997.98</text>
<text transform='matrix(0,-0.5191,0.5324,0,2140.4676,707.0765)' font-family="'Liberation Sans', Arial, sans-serif" font-weight='bold' font-size='100' fill='#0a0a0a'>913.42</text>
<text transform='matrix(0,-0.5239,0.5648,0,1795.6352,809.7432)' font-family="'Liberation Sans', Arial, sans-serif" font-weight='bold' font-size='100' fill='#0a0a0a'>1394.28</text>
<text transform='matrix(0,-0.5267,0.5352,0,1549.0648,876.1602)' font-family="'Liberation Sans', Arial, sans-serif" font-weight='bold' font-size='100' fill='#0a0a0a'>1730.79</text>
<text transform='matrix(0,-0.5227,0.5493,0,1664.9507,894.136)' font-family="'Liberation Sans', Arial, sans-serif" font-weight='bold' font-size='100' fill='#0a0a0a'>1630.51</text>
<text transform='matrix(0,-0.5164,0.5352,0,1130.8648,1080.8492)' font-family="'Liberation Sans', Arial, sans-serif" font-weight='bold' font-size='100' fill='#0a0a0a'>2365.62</text>
<text transform='matrix(0,-0.5197,0.5577,0,458.8423,1630.7393)' font-family="'Liberation Sans', Arial, sans-serif" font-weight='bold' font-size='100' fill='#0a0a0a'>3423.76</text>
<text transform='matrix(0,-0.5224,0.5577,0,550.9423,1586.5448)' font-family="'Liberation Sans', Arial, sans-serif" font-weight='bold' font-size='100' fill='#0a0a0a'>3316.35</text>
<text transform='matrix(0,-0.513,0.5254,0,686.4746,1527.1259)' font-family="'Liberation Sans', Arial, sans-serif" font-weight='bold' font-size='100' fill='#0a0a0a'>3018.90</text>
</svg>
</body></html>
